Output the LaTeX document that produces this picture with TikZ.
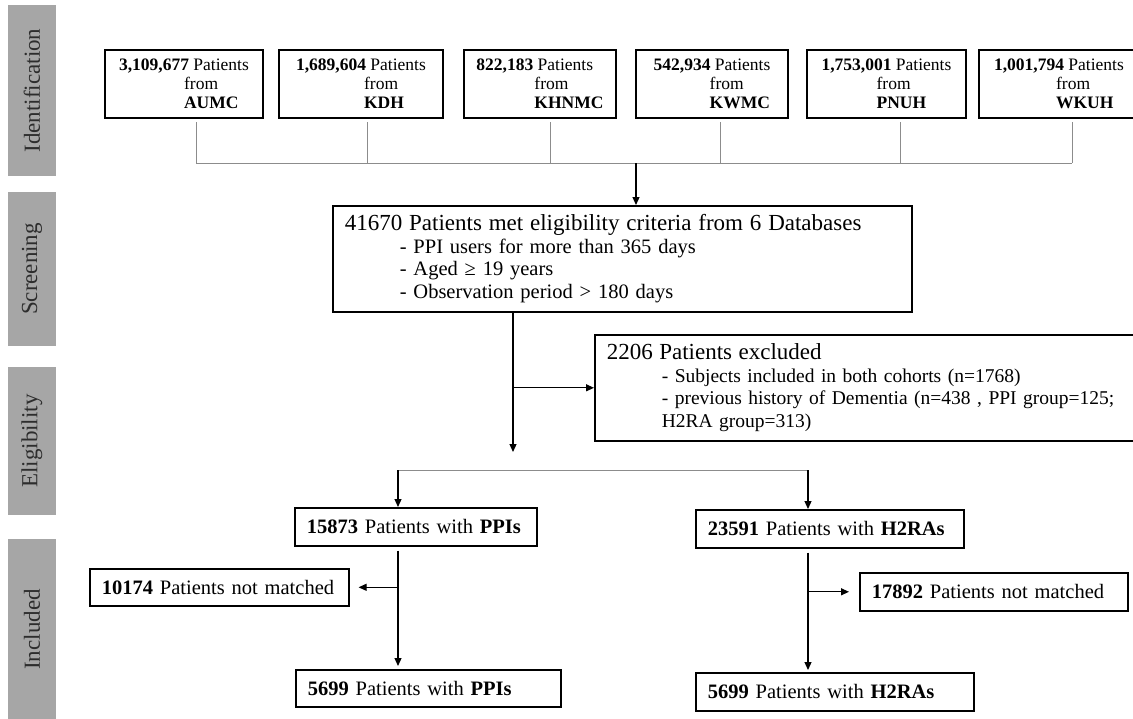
\documentclass[tikz,border=0pt]{standalone}
\usepackage{fontspec}
\setmainfont{Liberation Serif}
\usepackage{tikz}
\usetikzlibrary{arrows.meta,positioning,calc}
\definecolor{mybar}{RGB}{166,166,166}
\definecolor{mybartext}{RGB}{45,45,45}
\definecolor{myline}{RGB}{140,140,140}

\begin{document}
\begin{tikzpicture}[x=1pt, y=-1pt,
  phase/.style={fill=mybar, text=mybartext, rotate=90, minimum height=48pt,
    inner sep=0pt, font=\fontsize{23}{23}\selectfont},
  src/.style={draw, line width=2pt, minimum height=68pt, align=left,
    inner xsep=0pt, font=\fontsize{17.5}{19}\selectfont},
  box/.style={draw, line width=1.6pt, anchor=north west, inner xsep=12pt,
    text width=#1, align=left, font=\fontsize{20.5}{22.5}\selectfont},
  arr/.style={line width=1.2pt, -{Triangle[length=8pt,width=7pt]}},
  bus/.style={myline, line width=0.9pt}]
  \useasboundingbox (0,0) rectangle (1133,718);

  % Phase bars
  \node[phase, minimum width=171pt] (pid) at (32,90.5) {Identification};
  \node[phase, minimum width=154pt] (pscr) at (32,269) {Screening};
  \node[phase, minimum width=148pt] (pelig) at (32,441) {Eligibility};
  \node[phase, minimum width=181pt] (pinc) at (32,629.5) {Included};

  % Source databases
  \foreach \id/\num/\site/\xl/\w/\ind/\lx in {
      aumc/{3,109,677}/AUMC/105/158/65/196,
      kdh/{1,689,604}/KDH/279/164/68/367,
      khnmc/{822,183}/KHNMC/464/152/58/550,
      kwmc/{542,934}/KWMC/636/152/56/720,
      pnuh/{1,753,001}/PNUH/807/159/55/900,
      wkuh/{1,001,794}/WKUH/979/160/62/1072}{
    \node[src, minimum width=\w*1pt] (\id) at (\xl+\w/2, 84)
      {\textbf{\num} Patients\\\hspace*{\ind pt}from\\\hspace*{\ind pt}\textbf{\site}};
    \coordinate (\id-b) at (\lx,163);
    \draw[bus, shorten <=3pt] (\id.south -| \id-b) -- (\id-b);
  }
  \coordinate (join) at (636,163);
  \draw[bus] (aumc-b) -- (wkuh-b);

  % Screening and exclusion
  \node[box=555pt, minimum height=106pt] (screen) at (332,205)
    {{\fontsize{23}{22.5}\selectfont 41670 Patients met eligibility criteria from 6 Databases}\\
     \hspace*{55pt}- PPI users for more than 365 days\\
     \hspace*{55pt}- Aged ≥ 19 years\\
     \hspace*{55pt}- Observation period > 180 days};
  \node[box=536pt, minimum height=106pt, font=\fontsize{19.5}{22.5}\selectfont] (excl) at (594,334)
    {{\fontsize{23}{22.5}\selectfont 2206 Patients excluded}\\
     \hspace*{55pt}- Subjects included in both cohorts (n=1768)\\
     \hspace*{55pt}- previous history of Dementia (n=438 , PPI group=125;\\
     \hspace*{55pt}H2RA group=313)};
  \draw[arr] (join) -- (join |- screen.north);
  \coordinate (m1) at (513,452);
  \draw[arr] (screen.south -| m1) -- (m1);
  \draw[arr] (excl.west -| m1) -- (excl.west);

  % Cohorts
  \node[box=218pt, minimum height=38pt] (ppi) at (294,507)
    {\textbf{15873} Patients with \textbf{PPIs}};
  \node[box=244pt, minimum height=38pt] (h2ra) at (695,509)
    {\textbf{23591} Patients with \textbf{H2RAs}};
  \coordinate (sL) at (398,470);
  \coordinate (sR) at (808,470);
  \draw[bus] (sL) -- (sR);
  \draw[arr] (sL) -- (sL |- ppi.north);
  \draw[arr] (sR) -- (sR |- h2ra.north);

  % Matching
  \node[box=235pt, minimum height=37pt] (nmL) at (89,568)
    {\textbf{10174} Patients not matched};
  \node[box=244pt, minimum height=38pt] (nmR) at (859,572)
    {\textbf{17892} Patients not matched};
  \node[box=241pt, minimum height=37pt] (ppifin) at (295,669)
    {\textbf{5699} Patients with \textbf{PPIs}};
  \node[box=254pt, minimum height=38pt] (h2rafin) at (695,672)
    {\textbf{5699} Patients with \textbf{H2RAs}};
  \draw[arr, shorten <=4pt, shorten >=3pt] (sL |- ppi.south) -- (sL |- ppifin.north);
  \draw[arr, shorten >=9pt] (nmL.east -| sL) -- (nmL.east);
  \draw[arr, shorten <=4pt, shorten >=2pt] (sR |- h2ra.south) -- (sR |- h2rafin.north);
  \draw[arr, shorten >=10pt] (nmR.west -| sR) -- (nmR.west);
\end{tikzpicture}
\end{document}
